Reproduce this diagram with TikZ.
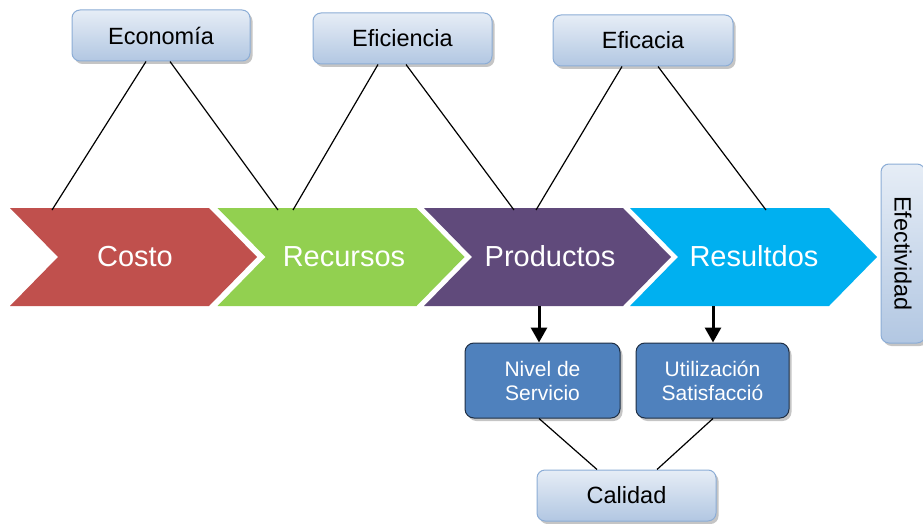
\documentclass[tikz,border=0pt]{standalone}
\usepackage{fontspec}
\setmainfont{Liberation Sans}
\usetikzlibrary{shadows,arrows.meta}
\definecolor{cred}{HTML}{C0504D}
\definecolor{cgreen}{HTML}{92D050}
\definecolor{cpurple}{HTML}{604A7B}
\definecolor{cblue}{HTML}{00B0F0}
\definecolor{boxtop}{HTML}{E6EDF6}
\definecolor{boxbot}{HTML}{B2C7E2}
\definecolor{boxline}{HTML}{8CADD6}
\definecolor{darkfill}{HTML}{4F81BD}
\definecolor{darkline}{HTML}{1F2F45}
\tikzset{
  lightbox/.style={rounded corners=8pt, top color=boxtop, bottom color=boxbot,
    draw=boxline, line width=1pt, inner sep=0pt, text=black,
    font=\fontsize{23.5}{28}\selectfont,
    drop shadow={shadow xshift=2.5pt, shadow yshift=-3pt, fill=black!50, opacity=.45}},
  darkbox/.style={rounded corners=9pt, fill=darkfill, draw=darkline, line width=1pt,
    inner sep=0pt, text=white, align=center, font=\fontsize{21}{24}\selectfont,
    drop shadow={shadow xshift=2.5pt, shadow yshift=-3pt, fill=black!50, opacity=.45}},
  chevlabel/.style={text=white, font=\fontsize{29}{34}\selectfont, anchor=base, inner sep=0pt},
  link/.style={draw=black, line width=1.2pt},
  downarrow/.style={draw=black, line width=3pt, -{Triangle[width=16pt,length=15pt]}},
}
\newcommand\mychev[2]{\fill[#2] (#1,208) -- ++(199,0) -- ++(48,49) -- ++(-48,49) -- ++(-199,0) -- ++(48,-49) -- cycle;}
\begin{document}
\begin{tikzpicture}[x=1pt,y=-1pt]
\useasboundingbox[fill=white] (0,0) rectangle (923,524);
% chevrons
\mychev{10}{cred}
\mychev{217.5}{cgreen}
\mychev{424}{cpurple}
\mychev{630}{cblue}
\node[chevlabel] (costo) at (135,266) {Costo};
\node[chevlabel] (recursos) at (344,266) {Recursos};
\node[chevlabel] (productos) at (550,266) {Productos};
\node[chevlabel] (resultdos) at (754,266) {Resultdos};
% anchor points on chevrons
\coordinate (c1) at (52,210);
\coordinate (c2) at (278,210);
\coordinate (c3) at (293,210);
\coordinate (c4) at (514,210);
\coordinate (c5) at (536,210);
\coordinate (c6) at (766,210);
\coordinate (p1) at (539,306);
\coordinate (r1) at (713,306);
% boxes
\node[lightbox, minimum width=178pt, minimum height=51pt] (econ) at (161,35.5) {Economía};
\node[lightbox, minimum width=179pt, minimum height=51pt] (efic) at (402.5,38.5) {Eficiencia};
\node[lightbox, minimum width=180pt, minimum height=51pt] (eficacia) at (643,40.5) {Eficacia};
\node[lightbox, minimum width=179pt, minimum height=44pt, rotate=-90] (efect) at (903,253.5) {Efectividad};
\node[darkbox, minimum width=155pt, minimum height=75pt] (nivel) at (542.5,380.5) {Nivel de\\Servicio};
\node[darkbox, minimum width=153pt, minimum height=75pt] (util) at (712.5,380.5) {Utilización\\Satisfacció};
\node[lightbox, minimum width=179pt, minimum height=51pt] (calidad) at (626.5,495.5) {Calidad};
% connectors
\draw[link] ([xshift=-15pt]econ.south) -- (c1);
\draw[link] ([xshift=9pt]econ.south) -- (c2);
\draw[link] ([xshift=-24.5pt]efic.south) -- (c3);
\draw[link] ([xshift=3.5pt]efic.south) -- (c4);
\draw[link] ([xshift=-21pt]eficacia.south) -- (c5);
\draw[link] ([xshift=15pt]eficacia.south) -- (c6);
\draw[downarrow] (p1) -- ([xshift=-3.5pt]nivel.north);
\draw[downarrow] (r1) -- ([xshift=0.5pt]util.north);
\draw[link] ([xshift=-3.5pt]nivel.south) -- ([xshift=-29.5pt]calidad.north);
\draw[link] ([xshift=0.5pt]util.south) -- ([xshift=30.5pt]calidad.north);
\end{tikzpicture}
\end{document}
